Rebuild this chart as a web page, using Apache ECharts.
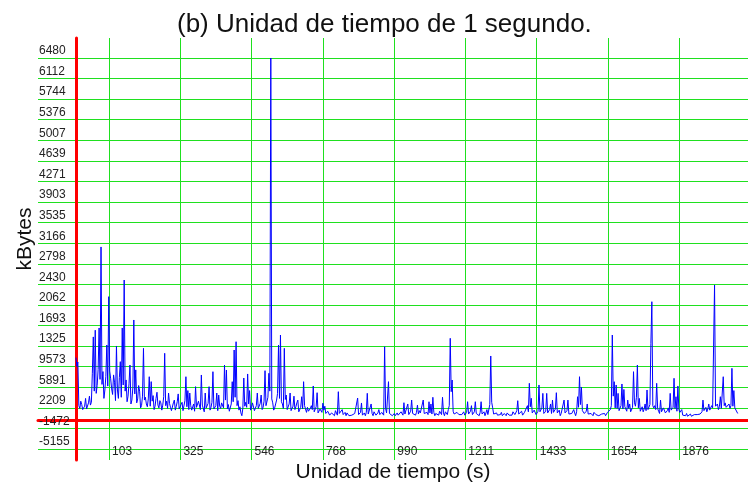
<!DOCTYPE html>
<html>
<head>
<meta charset="utf-8">
<script src="https://cdn.jsdelivr.net/npm/echarts@6/dist/echarts.min.js"></script>
<style>
  html, body { margin: 0; padding: 0; background: #fff; }
  #chart { width: 748px; height: 489px; }
</style>
</head>
<body>
<div id="chart"></div>
<script>
// one sample every 3 s, kBytes (one row = 60 s)
const step = 3
const kbytes = [
  11200, 9600, 10400, 2600, 2100, 3400, 2800, 1900, 1700, 2500, 3900, 2000, 2300, 3100, 4300, 2700, 3200, 8400, 14900, 5200,
  16100, 4800, 6200, 9100, 16500, 7300, 31000, 6400, 8700, 3900, 5400, 7800, 13450, 6100, 22100, 8800, 7400, 5600, 4600, 8100,
  6800, 3500, 13270, 5400, 3900, 7600, 10470, 4100, 16500, 6300, 25080, 5200, 7200, 3300, 4300, 6500, 9870, 2900, 3600, 5800,
  17930, 4700, 9000, 3100, 3800, 6200, 5200, 2200, 2600, 4300, 12860, 3600, 4100, 2900, 2400, 3800, 7780, 2500, 6900, 3400,
  4400, 1900, 2500, 3900, 5000, 2700, 2200, 3500, 3100, 1800, 2700, 4200, 11970, 2600, 3400, 2100, 4860, 3000, 2300, 1700,
  1900, 3100, 3600, 1800, 2500, 3300, 4700, 2000, 2100, 2800, 3200, 1700, 2000, 3500, 7780, 2400, 5300, 1900, 4860, 2600,
  1800, 2400, 2900, 1600, 6000, 2300, 2200, 3400, 3300, 1900, 8090, 2700, 2600, 1500, 4860, 2200, 2100, 3000, 6000, 1800,
  2300, 3200, 8680, 2000, 1900, 2600, 4860, 1700, 4500, 2500, 2100, 3100, 3300, 2200, 9870, 3600, 8980, 2000, 2800, 1600,
  1900, 2900, 6890, 3300, 12560, 4100, 14040, 2600, 3500, 1800, 2400, 1300, 800, 2100, 7550, 2500, 3200, 2300, 8270, 2900,
  5300, 1800, 2200, 3100, 2900, 1700, 1500, 2600, 4860, 2100, 2000, 3000, 4500, 1900, 2300, 3400, 8860, 2600, 2700, 4100,
  8390, 5200, 64800, 3800, 3100, 1800, 2200, 2900, 3600, 4800, 13450, 3900, 15240, 3300, 2900, 2100, 12860, 3700, 4500, 1900,
  2200, 2900, 4860, 1700, 1800, 2500, 4300, 1900, 2400, 3100, 3600, 1500, 1600, 2300, 4200, 2000, 6890, 2600, 2000, 1400,
  2300, 1600, 1400, 2100, 2600, 1900, 6120, 1500, 1700, 2400, 4920, 1300, 1500, 2000, 2300, 1400, 3050, 1800, 2500, 1200,
  1100, 1600, 1900, 900, 800, 1300, 1400, 1000, 800, 1700, 1500, 900, 5100, 1200, 1100, 1500, 1900, 1000, 900, 1400,
  800, 1300, 1200, 800, 700, 1100, 900, 700, 700, 1200, 900, 1500, 3970, 1000, 800, 1400, 3080, 900, 1000, 1300,
  800, 1400, 4810, 1100, 1300, 900, 2900, 1200, 800, 1500, 1400, 900, 800, 1300, 1900, 1000, 800, 1400, 1100, 900,
  13150, 2100, 1300, 1600, 6890, 1200, 900, 1400, 800, 1000, 1200, 800, 800, 1300, 900, 1100, 800, 1500, 1300, 900,
  3130, 1100, 800, 1400, 2900, 1000, 1100, 1600, 3610, 1200, 1500, 900, 900, 1400, 2700, 1100, 1700, 1300, 1200, 1600,
  3610, 1200, 900, 1500, 1400, 1000, 3300, 1300, 2900, 1100, 4100, 1400, 800, 1200, 1500, 900, 900, 1600, 1300, 1000,
  4100, 1300, 800, 1500, 1200, 1000, 1900, 2600, 14650, 5100, 7190, 1600, 1100, 900, 800, 1400, 1300, 1000, 800, 1200,
  1000, 1300, 1500, 900, 800, 1400, 3310, 1100, 1200, 1600, 2600, 1000, 900, 1500, 3310, 1200, 1100, 900, 800, 1400,
  3310, 1100, 1200, 1500, 800, 1300, 1900, 1000, 900, 2800, 11490, 3200, 2200, 1100, 800, 1400, 1300, 900, 800, 1200,
  1000, 1400, 800, 1100, 1200, 900, 800, 1300, 1100, 900, 800, 1200, 900, 1500, 1300, 1000, 900, 1700, 3490, 1100,
  1000, 1300, 1600, 900, 800, 1400, 1200, 1700, 2600, 1500, 6600, 2400, 3920, 1300, 1200, 1800, 2100, 1000, 900, 1600,
  6300, 1500, 1300, 2200, 4800, 1200, 1000, 1600, 4800, 1300, 1400, 1900, 2900, 1200, 3600, 1400, 1100, 2000, 4920, 1300,
  1300, 1800, 800, 1200, 1500, 1000, 3600, 1300, 1200, 1700, 3600, 1100, 900, 1400, 1200, 1000, 1900, 1300, 800, 1500,
  4200, 2300, 7780, 2800, 5900, 1700, 1500, 1200, 1000, 1600, 2900, 1100, 800, 1300, 1200, 900, 800, 1400, 1300, 1000,
  1000, 1200, 800, 900, 700, 1100, 900, 1300, 1200, 800, 900, 1400, 1300, 1100, 1900, 2600, 15240, 4300, 6890, 2200,
  6300, 2100, 4800, 1700, 1800, 2600, 6480, 2000, 5500, 2400, 2200, 1600, 3600, 2100, 2900, 1500, 1600, 2300, 8680, 3100,
  2500, 4100, 9870, 2200, 3900, 1600, 1800, 2400, 1500, 2000, 2900, 1700, 5400, 1900, 1900, 2800, 13760, 21200, 2600, 2200,
  2600, 1900, 6600, 2100, 1600, 1200, 3600, 1500, 1500, 2200, 2100, 1300, 1100, 1700, 2200, 1400, 4800, 1800, 1600, 2300,
  7500, 2100, 4200, 1600, 6120, 1900, 1400, 1100, 1900, 900, 1100, 800, 800, 1200, 700, 900, 900, 1100, 700, 800,
  800, 1000, 700, 900, 1000, 800, 700, 1100, 800, 1500, 3600, 1700, 1800, 2300, 1500, 2000, 2900, 1800, 2100, 2600,
  2200, 13150, 24190, 2500, 2200, 2900, 1900, 2400, 4200, 2100, 2000, 7780, 2600, 3100, 2300, 2000, 2400, 2900, 2100, 2600,
  9280, 2500, 5300, 2200, 1900, 2400, 1200
]

const xTicks = [103, 325, 546, 768, 990, 1211, 1433, 1654, 1876]
const yTicks = [-5155, -1473, 2209, 5891, 9573, 13255, 16937, 20619, 24301, 27983,
  31665, 35347, 39029, 42711, 46393, 50075, 53757, 57439, 61121, 64803]
const yLabels = ['-5155', '-1472', '2209', '5891', '9573', '1325', '1693', '2062', '2430', '2798',
  '3166', '3535', '3903', '4271', '4639', '5007', '5376', '5744', '6112', '6480']

const green = '#1fe01f'
const font = 'Liberation Sans'

const chart = echarts.init(document.getElementById('chart'))

chart.setOption({
  animation: false,
  title: {
    text: '(b) Unidad de tiempo de 1 segundo.',
    left: 172,
    top: 7,
    textStyle: { fontSize: 26, fontWeight: 'normal', color: '#111', fontFamily: font }
  },
  grid: { left: 38, right: 0, top: 38, bottom: 29, outerBoundsMode: 'none' },
  xAxis: {
    type: 'value',
    min: -118,
    max: 2090,
    name: 'Unidad de tiempo (s)',
    nameLocation: 'middle',
    nameGap: 2,
    nameMoveOverlap: false,
    nameTextStyle: { fontSize: 21, color: '#111', fontFamily: font },
    axisLine: { onZero: true, lineStyle: { color: '#ff0000', width: 3 } },
    axisTick: { show: false, customValues: xTicks },
    axisLabel: {
      customValues: xTicks,
      formatter: v => String(v),
      inside: true,
      margin: 2,
      align: 'left',
      padding: [0, 0, 0, 3],
      fontSize: 12,
      color: '#222',
      fontFamily: font
    },
    splitLine: { show: true, lineStyle: { color: green, width: 1 } }
  },
  yAxis: {
    type: 'value',
    min: -7123,
    max: 68381,
    name: 'kBytes',
    nameLocation: 'middle',
    nameGap: 13,
    nameMoveOverlap: false,
    nameTextStyle: {
      fontSize: 21, color: '#111', fontFamily: font,
      verticalAlign: 'middle', padding: [0, 0, 0, 20]
    },
    axisLine: { onZero: true, lineStyle: { color: '#ff0000', width: 3 } },
    axisTick: { show: false, customValues: yTicks },
    axisLabel: {
      customValues: yTicks,
      formatter: v => yLabels[yTicks.indexOf(v)],
      align: 'left',
      verticalAlign: 'bottom',
      margin: -1,
      padding: [0, 0, 1, 0],
      fontSize: 12,
      color: '#222',
      fontFamily: font
    },
    splitLine: { show: true, lineStyle: { color: green, width: 1 } }
  },
  series: [
    {
      type: 'line',
      data: kbytes.map((v, i) => [i * step, v]),
      showSymbol: false,
      smooth: false,
      lineStyle: { color: '#0000ff', width: 1 },
      itemStyle: { color: '#0000ff' },
      z: 1
    }
  ]
})
</script>
</body>
</html>
